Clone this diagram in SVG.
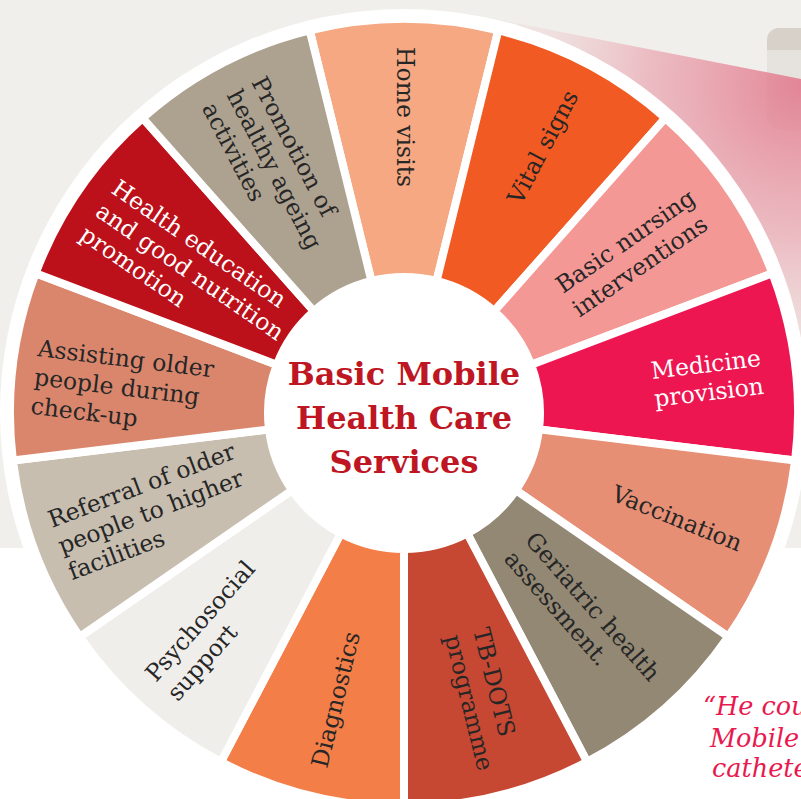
<svg xmlns="http://www.w3.org/2000/svg" width="801" height="799" viewBox="0 0 801 799">
<defs>
<style>
.seg{stroke:#ffffff;stroke-width:8;stroke-linejoin:miter}
.lbl{font-family:"DejaVu Serif","Liberation Serif",serif;font-size:23.5px;fill:#262626}
.wl{fill:#ffffff}
.title{font-family:"DejaVu Serif","Liberation Serif",serif;font-size:32px;font-weight:bold;fill:#be1622;text-anchor:middle}
.quote{font-family:"DejaVu Serif","Liberation Serif",serif;font-style:italic;font-size:25.5px;fill:#e8194f}
</style>
<radialGradient id="beam" gradientUnits="userSpaceOnUse" cx="801" cy="85" r="380">
<stop offset="0" stop-color="#e27b8e" stop-opacity="0.9"/>
<stop offset="0.4" stop-color="#e891a0" stop-opacity="0.55"/>
<stop offset="1" stop-color="#f0efeb" stop-opacity="0"/>
</radialGradient>
</defs>
<rect x="0" y="0" width="801" height="799" fill="#ffffff"/>
<rect x="0" y="0" width="801" height="548" fill="#f0efeb"/>
<g id="side-box">
<rect x="767" y="28" width="60" height="102" rx="12" fill="#e6e3de"/>
<path d="M767,50 V40 A12,12 0 0 1 779,28 H801 V50 Z" fill="#d7d1c9"/>
</g>
<polygon id="beam-wedge" points="470,14 801,79 801,470 680,250" fill="url(#beam)"/>
<circle cx="404" cy="413" r="404" fill="#ffffff"/>
<g id="segments">
<path id="seg-home" class="seg" fill="#f6a882" d="M309.71,30.46 A394,394 0 0 1 498.29,30.46 L436.55,280.95 A136,136 0 0 0 371.45,280.95 Z"/>
<path id="seg-vital" class="seg" fill="#f15a22" d="M498.29,30.46 A394,394 0 0 1 665.27,118.09 L494.18,311.20 A136,136 0 0 0 436.55,280.95 Z"/>
<path id="seg-nursing" class="seg" fill="#f49896" d="M665.27,118.09 A394,394 0 0 1 772.40,273.29 L531.16,364.77 A136,136 0 0 0 494.18,311.20 Z"/>
<path id="seg-medicine" class="seg" fill="#ed1651" d="M772.40,273.29 A394,394 0 0 1 795.13,460.49 L539.01,429.39 A136,136 0 0 0 531.16,364.77 Z"/>
<path id="seg-vaccination" class="seg" fill="#e68f75" d="M795.13,460.49 A394,394 0 0 1 728.25,636.82 L515.93,490.26 A136,136 0 0 0 539.01,429.39 Z"/>
<path id="seg-geriatric" class="seg" fill="#938874" d="M728.25,636.82 A394,394 0 0 1 587.10,761.87 L467.20,533.42 A136,136 0 0 0 515.93,490.26 Z"/>
<path id="seg-tbdots" class="seg" fill="#c64732" d="M587.10,761.87 A394,394 0 0 1 404,807 L404,549 A136,136 0 0 0 467.20,533.42 Z"/>
<path id="seg-diagnostics" class="seg" fill="#f47e47" d="M404,807 A394,394 0 0 1 220.90,761.87 L340.80,533.42 A136,136 0 0 0 404,549 Z"/>
<path id="seg-psychosocial" class="seg" fill="#efeeea" d="M220.90,761.87 A394,394 0 0 1 79.75,636.82 L292.07,490.26 A136,136 0 0 0 340.80,533.42 Z"/>
<path id="seg-referral" class="seg" fill="#c8beb0" d="M79.75,636.82 A394,394 0 0 1 12.87,460.49 L268.99,429.39 A136,136 0 0 0 292.07,490.26 Z"/>
<path id="seg-assisting" class="seg" fill="#da866d" d="M12.87,460.49 A394,394 0 0 1 35.60,273.29 L276.84,364.77 A136,136 0 0 0 268.99,429.39 Z"/>
<path id="seg-education" class="seg" fill="#bc111b" d="M35.60,273.29 A394,394 0 0 1 142.73,118.09 L313.82,311.20 A136,136 0 0 0 276.84,364.77 Z"/>
<path id="seg-promotion" class="seg" fill="#ada190" d="M142.73,118.09 A394,394 0 0 1 309.71,30.46 L371.45,280.95 A136,136 0 0 0 313.82,311.20 Z"/>
</g>
<g id="labels">
<g id="lbl-home" transform="translate(397,47) rotate(90)"><text class="lbl" x="0" y="0">Home visits</text></g>
<g id="lbl-vital" transform="translate(521,206) rotate(-62.3)"><text class="lbl" x="0" y="0">Vital signs</text></g>
<g id="lbl-nursing" transform="translate(563,294) rotate(-34.6)"><text class="lbl" x="0" y="0">Basic nursing<tspan x="0" dy="29">interventions</tspan></text></g>
<g id="lbl-medicine" transform="translate(652,379) rotate(-6.9)"><text class="lbl wl" x="0" y="0">Medicine<tspan x="0" dy="28">provision</tspan></text></g>
<g id="lbl-vaccination" transform="translate(610,500) rotate(22)"><text class="lbl" x="0" y="0">Vaccination</text></g>
<g id="lbl-geriatric" transform="translate(524,541) rotate(48.5)"><text class="lbl" x="0" y="0">Geriatric health<tspan x="0" dy="28">assessment.</tspan></text></g>
<g id="lbl-tbdots" transform="translate(473,630) rotate(76.2)"><text class="lbl" x="0" y="0">TB-DOTS<tspan x="0" dy="29">programme</tspan></text></g>
<g id="lbl-diagnostics" transform="translate(327,769) rotate(-76.2)"><text class="lbl" x="0" y="0">Diagnostics</text></g>
<g id="lbl-psychosocial" transform="translate(156,683) rotate(-48.5)"><text class="lbl" x="0" y="0">Psychosocial<tspan x="0" dy="29">support</tspan></text></g>
<g id="lbl-referral" transform="translate(52,528) rotate(-20.8)"><text class="lbl" x="0" y="0">Referral of older<tspan x="0" dy="28">people to higher</tspan><tspan x="0" dy="28">facilities</tspan></text></g>
<g id="lbl-assisting" transform="translate(37,356) rotate(6.9)"><text class="lbl" x="0" y="0">Assisting older<tspan x="0" dy="29">people during</tspan><tspan x="0" dy="29">check-up</tspan></text></g>
<g id="lbl-education" transform="translate(110,192) rotate(34.6)"><text class="lbl wl" x="0" y="0">Health education<tspan x="0" dy="28">and good nutrition</tspan><tspan x="0" dy="28">promotion</tspan></text></g>
<g id="lbl-promotion" transform="translate(251,82) rotate(62.3)"><text class="lbl" x="0" y="0">Promotion of<tspan x="0" dy="28">healthy ageing</tspan><tspan x="0" dy="28">activities</tspan></text></g>
</g>
<g id="center-title">
<text class="title" x="404" y="385">Basic Mobile</text>
<text class="title" x="404" y="429">Health Care</text>
<text class="title" x="404" y="473">Services</text>
</g>
<g id="quote">
<text class="quote" x="703" y="715">“He cou</text>
<text class="quote" x="710" y="747">Mobile</text>
<text class="quote" x="712" y="777">cathete</text>
</g>
</svg>
